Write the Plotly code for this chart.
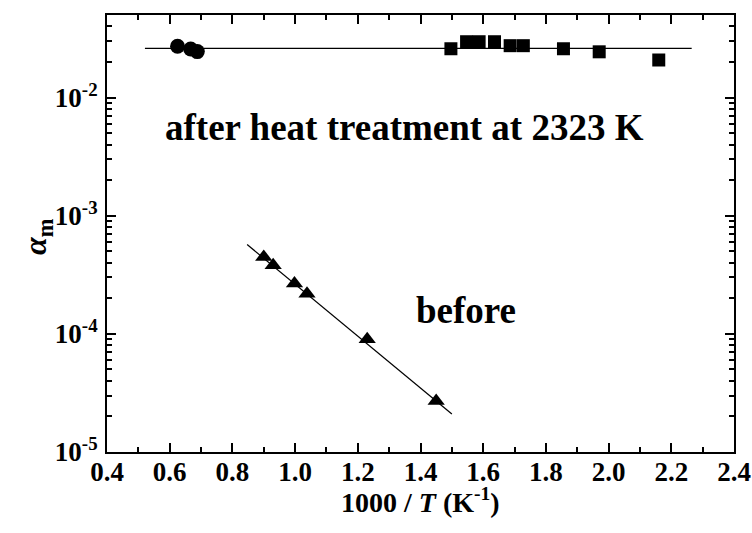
import plotly.graph_objects as go

# after heat treatment (circles)
circ_x = [0.625, 0.667, 0.688]
circ_y = [0.0272, 0.0258, 0.0245]
# after heat treatment (squares)
sq_x = [1.497, 1.547, 1.587, 1.636, 1.686, 1.728, 1.856, 1.97, 2.16]
sq_y = [0.0259, 0.0297, 0.0297, 0.0297, 0.0275, 0.0275, 0.0259, 0.0244, 0.0208]
# before (triangles)
tri_x = [0.900, 0.930, 0.998, 1.038, 1.23, 1.45]
tri_y = [4.48e-4, 3.81e-4, 2.67e-4, 2.19e-4, 9.0e-5, 2.7e-5]
# fitted lines
after_fit_x = [0.521, 2.265]
after_fit_y = [0.0261, 0.0261]
before_fit_x = [0.847, 1.50]
before_fit_y = [5.7e-4, 2.1e-5]

x_ticks = [0.4, 0.6, 0.8, 1.0, 1.2, 1.4, 1.6, 1.8, 2.0, 2.2, 2.4]
x_ticklabels = ["0.4", "0.6", "0.8", "1.0", "1.2", "1.4", "1.6", "1.8", "2.0", "2.2", "2.4"]
y_ticks = [1e-5, 1e-4, 1e-3, 1e-2]
y_ticklabels = ["10<sup>-5</sup>", "10<sup>-4</sup>", "10<sup>-3</sup>", "10<sup>-2</sup>"]

x_minor = [round(0.5 + 0.2 * i, 2) for i in range(10)]
y_minor = [m * d for d in [1e-5, 1e-4, 1e-3, 1e-2] for m in range(2, 10) if m * d <= 0.05]

font_family = "Liberation Serif"

fig = go.Figure()
line_style = dict(color="black", width=1.2)
fig.add_trace(go.Scatter(x=after_fit_x, y=after_fit_y, mode="lines", line=line_style, showlegend=False))
fig.add_trace(go.Scatter(x=before_fit_x, y=before_fit_y, mode="lines", line=line_style, showlegend=False))
fig.add_trace(go.Scatter(x=circ_x, y=circ_y, mode="markers",
                         marker=dict(symbol="circle", size=15, color="black"), showlegend=False))
fig.add_trace(go.Scatter(x=sq_x, y=sq_y, mode="markers",
                         marker=dict(symbol="square", size=13, color="black"), showlegend=False))
fig.add_trace(go.Scatter(x=tri_x, y=tri_y, mode="markers",
                         marker=dict(symbol="triangle-up", size=15, color="black"), showlegend=False))

fig.add_annotation(x=1.348, y=-2.25, xref="x", yref="y", text="<b>after heat treatment at 2323 K</b>",
                   showarrow=False, font=dict(family=font_family, size=37, color="black"))
fig.add_annotation(x=1.545, y=-3.80, xref="x", yref="y", text="<b>before</b>",
                   showarrow=False, font=dict(family=font_family, size=37, color="black"))
# axis titles
fig.add_annotation(x=0.5, y=-0.112, xref="paper", yref="paper", yanchor="middle",
                   text="<b>1000 / <i>T</i> (K<sup>-1</sup>)</b>", showarrow=False,
                   font=dict(family=font_family, size=28, color="black"))
fig.add_annotation(x=-0.11, y=0.492, xref="paper", yref="paper", xanchor="center", yanchor="middle",
                   text="<b><i>α</i><sub>m</sub></b>", showarrow=False, textangle=-90,
                   font=dict(family=font_family, size=32, color="black"))

axis_common = dict(showgrid=False, zeroline=False, showline=True, linecolor="black", linewidth=2,
                   mirror="ticks", ticks="inside", ticklen=9, tickwidth=1.5, tickcolor="black",
                   ticklabeloverflow="allow", automargin=False,
                   tickfont=dict(family=font_family, size=27, color="black"))

fig.update_layout(
    width=752, height=533,
    margin=dict(l=107, r=18, t=15, b=81, autoexpand=False),
    paper_bgcolor="white", plot_bgcolor="white",
    font=dict(family=font_family, color="black"),
    xaxis=dict(range=[0.4, 2.4], tickmode="array", tickvals=x_ticks, ticktext=["<b>%s</b>" % t for t in x_ticklabels],
               ticklabelstandoff=-5,
               minor=dict(tickmode="array", tickvals=x_minor, ticks="inside", ticklen=5, tickwidth=1.5, tickcolor="black"),
               **axis_common),
    yaxis=dict(type="log", range=[-5, -1.301], tickmode="array", tickvals=y_ticks,
               ticktext=["<b>%s</b>" % t for t in y_ticklabels],
               ticklabelstandoff=2,
               minor=dict(tickmode="array", tickvals=y_minor, ticks="inside", ticklen=5, tickwidth=1.5, tickcolor="black"),
               **axis_common),
)

fig.write_html("out.html", config={"displayModeBar": False},
               post_script="document.body.style.margin='0';")
